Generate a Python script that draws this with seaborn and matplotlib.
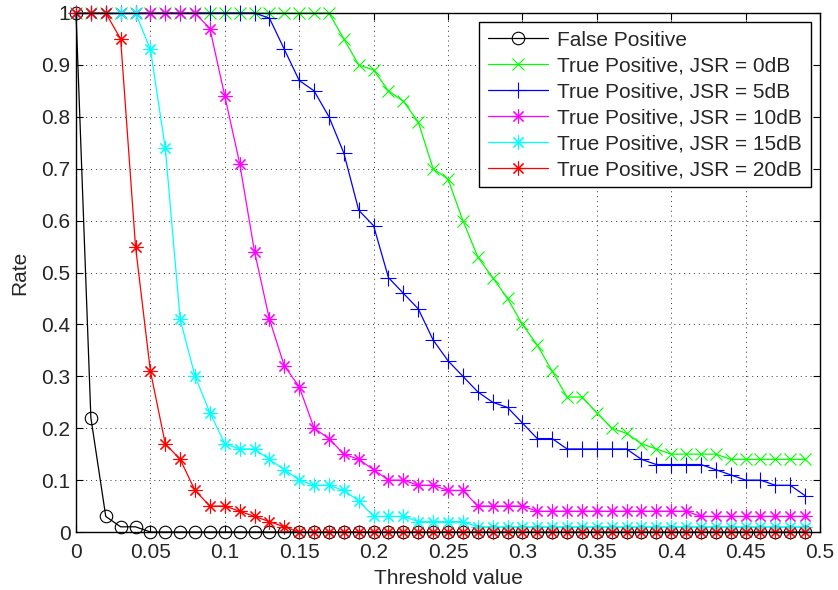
import numpy as np
import pandas as pd
import matplotlib
matplotlib.use("Agg")
import matplotlib.pyplot as plt
import seaborn as sns

# ---- data ----
threshold = [round(0.01 * i, 2) for i in range(50)]

false_positive = [1, 0.22, 0.03, 0.01, 0.01] + [0] * 45

tp_0db = ([1] * 18 +
          [0.95, 0.90, 0.89, 0.85, 0.83, 0.79, 0.70, 0.68, 0.60, 0.53,
           0.49, 0.45, 0.40, 0.36, 0.31, 0.26, 0.26, 0.23, 0.20, 0.19,
           0.17, 0.16, 0.15, 0.15, 0.15, 0.15, 0.14, 0.14, 0.14, 0.14,
           0.14, 0.14])

tp_5db = ([1] * 13 +
          [0.99, 0.93, 0.87, 0.85, 0.80, 0.73, 0.62, 0.59, 0.49, 0.46,
           0.43, 0.37, 0.33, 0.30, 0.27, 0.25, 0.24, 0.21, 0.18, 0.18,
           0.16, 0.16, 0.16, 0.16, 0.16, 0.14, 0.13, 0.13, 0.13, 0.13,
           0.12, 0.11, 0.10, 0.10, 0.09, 0.09, 0.07])

tp_10db = ([1] * 9 +
           [0.97, 0.84, 0.71, 0.54, 0.41, 0.32, 0.28, 0.20, 0.18, 0.15,
            0.14, 0.12, 0.10, 0.10, 0.09, 0.09, 0.08, 0.08, 0.05, 0.05,
            0.05, 0.05] + [0.04] * 11 + [0.03] * 8)

tp_15db = ([1] * 5 +
           [0.93, 0.74, 0.41, 0.30, 0.23, 0.17, 0.16, 0.16, 0.14, 0.12,
            0.10, 0.09, 0.09, 0.08, 0.06, 0.03, 0.03, 0.03, 0.02, 0.02,
            0.02, 0.02] + [0.01] * 23)

tp_20db = ([1, 1, 1, 0.95, 0.55, 0.31, 0.17, 0.14, 0.08, 0.05,
            0.05, 0.04, 0.03, 0.02, 0.01] + [0] * 35)

labels = ["False Positive",
          "True Positive, JSR = 0dB",
          "True Positive, JSR = 5dB",
          "True Positive, JSR = 10dB",
          "True Positive, JSR = 15dB",
          "True Positive, JSR = 20dB"]
series = [false_positive, tp_0db, tp_5db, tp_10db, tp_15db, tp_20db]

# ---- style ----
sns.set_theme(style="white")
plt.rcParams['font.family'] = ['Liberation Sans', 'DejaVu Sans']
plt.rcParams['xtick.direction'] = 'in'
plt.rcParams['ytick.direction'] = 'in'

FS = 15
colors = ["black", "#00ff00", "#0000ff", "#ff00ff", "#00ffff", "#ff0000"]
asterisk = (8, 2, 0)
markers = ["o", "x", "+", asterisk, asterisk, asterisk]
msizes = [9, 8, 11, 10, 10, 10]

fig = plt.figure(figsize=(8.38, 5.90), dpi=100)
ax = fig.add_axes([76 / 838, 1 - 532 / 590, (820 - 76) / 838, (532 - 13) / 590])

for lab, vals, col, mk, ms in zip(labels, series, colors, markers, msizes):
    df = pd.DataFrame({"Threshold value": threshold, "Rate": vals})
    sns.lineplot(data=df, x="Threshold value", y="Rate", ax=ax, color=col,
                 marker=mk, markersize=ms, markeredgecolor=col,
                 markerfacecolor="none", markeredgewidth=0.8,
                 linewidth=0.9, label=lab, clip_on=False)

ax.set_xlim(0, 0.5)
ax.set_ylim(0, 1)
xt = [0, 0.05, 0.1, 0.15, 0.2, 0.25, 0.3, 0.35, 0.4, 0.45, 0.5]
yt = [0, 0.1, 0.2, 0.3, 0.4, 0.5, 0.6, 0.7, 0.8, 0.9, 1]
ax.set_xticks(xt)
ax.set_xticklabels([f"{v:g}" for v in xt])
ax.set_yticks(yt)
ax.set_yticklabels([f"{v:g}" for v in yt])
ax.tick_params(axis="both", which="both", direction="in", length=5,
               width=0.8, color="black", labelsize=FS, top=True, right=True,
               bottom=True, left=True)
ax.tick_params(axis="x", pad=8)
ax.tick_params(axis="y", pad=4)
ax.grid(True, linestyle=(0, (1, 4)), color="black", linewidth=0.7, alpha=0.8)
for sp in ax.spines.values():
    sp.set_color("black")
    sp.set_linewidth(1.0)
ax.set_axisbelow(True)
ax.set_xlabel("Threshold value", fontsize=FS, labelpad=5)
ax.set_ylabel("Rate", fontsize=FS, labelpad=9)

leg = ax.legend(loc="upper right", fontsize=FS, frameon=True, fancybox=False,
                edgecolor="black", framealpha=1, handlelength=2.9,
                borderaxespad=0.45, labelspacing=0.33, handletextpad=0.45,
                borderpad=0.4)
leg.get_frame().set_linewidth(1.0)

fig.savefig("out.png", dpi=100, facecolor="white")
